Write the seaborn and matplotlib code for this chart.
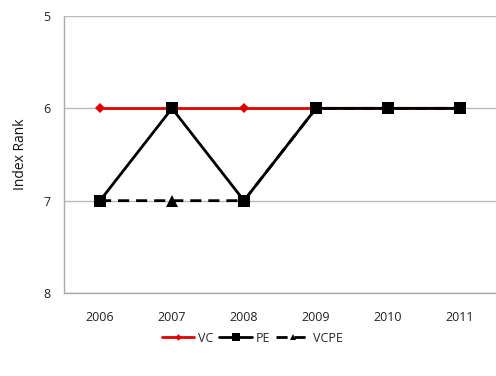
import matplotlib
matplotlib.use("Agg")
import matplotlib.pyplot as plt
import seaborn as sns
import pandas as pd

years = ["2006", "2007", "2008", "2009", "2010", "2011"]
vc = [6, 6, 6, 6, 6, 6]
pe = [7, 6, 7, 6, 6, 6]
vcpe = [7, 7, 7, 6, 6, 6]

sns.set_theme(style="white")
plt.rcParams["font.family"] = ["Open Sans", "DejaVu Sans"]

fig = plt.figure(figsize=(4.96, 3.76), dpi=100)
ax = fig.add_axes([64 / 496, 1 - 293 / 376, 1 - 64 / 496, (293 - 16) / 376])

x = list(range(len(years)))
series = [
    ("VC", vc, dict(color="#e00000", marker="D", markersize=5.5, linestyle="-")),
    ("VCPE", vcpe, dict(color="black", marker="^", markersize=8, linestyle=(0, (4, 2.5)))),
    ("PE", pe, dict(color="black", marker="s", markersize=8.5, linestyle="-")),
]
handles = {}
for name, vals, style in series:
    df = pd.DataFrame({"x": x, "rank": vals})
    sns.lineplot(data=df, x="x", y="rank", ax=ax, linewidth=2.0,
                 markeredgewidth=0, label=name, legend=False, **style)
    handles[name] = ax.lines[-1]

ax.set_xlim(-0.5, len(years) - 0.5)
ax.set_ylim(8, 5)
ax.set_yticks([5, 6, 7, 8])
ax.set_xticks(x)
ax.set_xticklabels(years)
ax.tick_params(axis="both", length=0, labelsize=9, colors="#222222")
ax.tick_params(axis="x", pad=13)
ax.tick_params(axis="y", pad=10)
ax.yaxis.grid(True, color="#bbbbbb", linewidth=1)
ax.set_xlabel("")
ax.set_ylabel("Index Rank", fontsize=10, color="#111111", labelpad=11)
for side in ["top", "right"]:
    ax.spines[side].set_visible(False)
for side in ["left", "bottom"]:
    ax.spines[side].set_color("#aaaaaa")
    ax.spines[side].set_linewidth(1)

leg = fig.legend([handles[n] for n in ["VC", "PE", "VCPE"]], ["VC", "PE", "VCPE"],
                 loc="center", bbox_to_anchor=(252 / 496, 1 - 338 / 376), ncol=3,
                 frameon=False, fontsize=9, handlelength=2.6, columnspacing=0.5,
                 handletextpad=0.3, markerscale=0.6)

fig.savefig("out.png", dpi=100)
